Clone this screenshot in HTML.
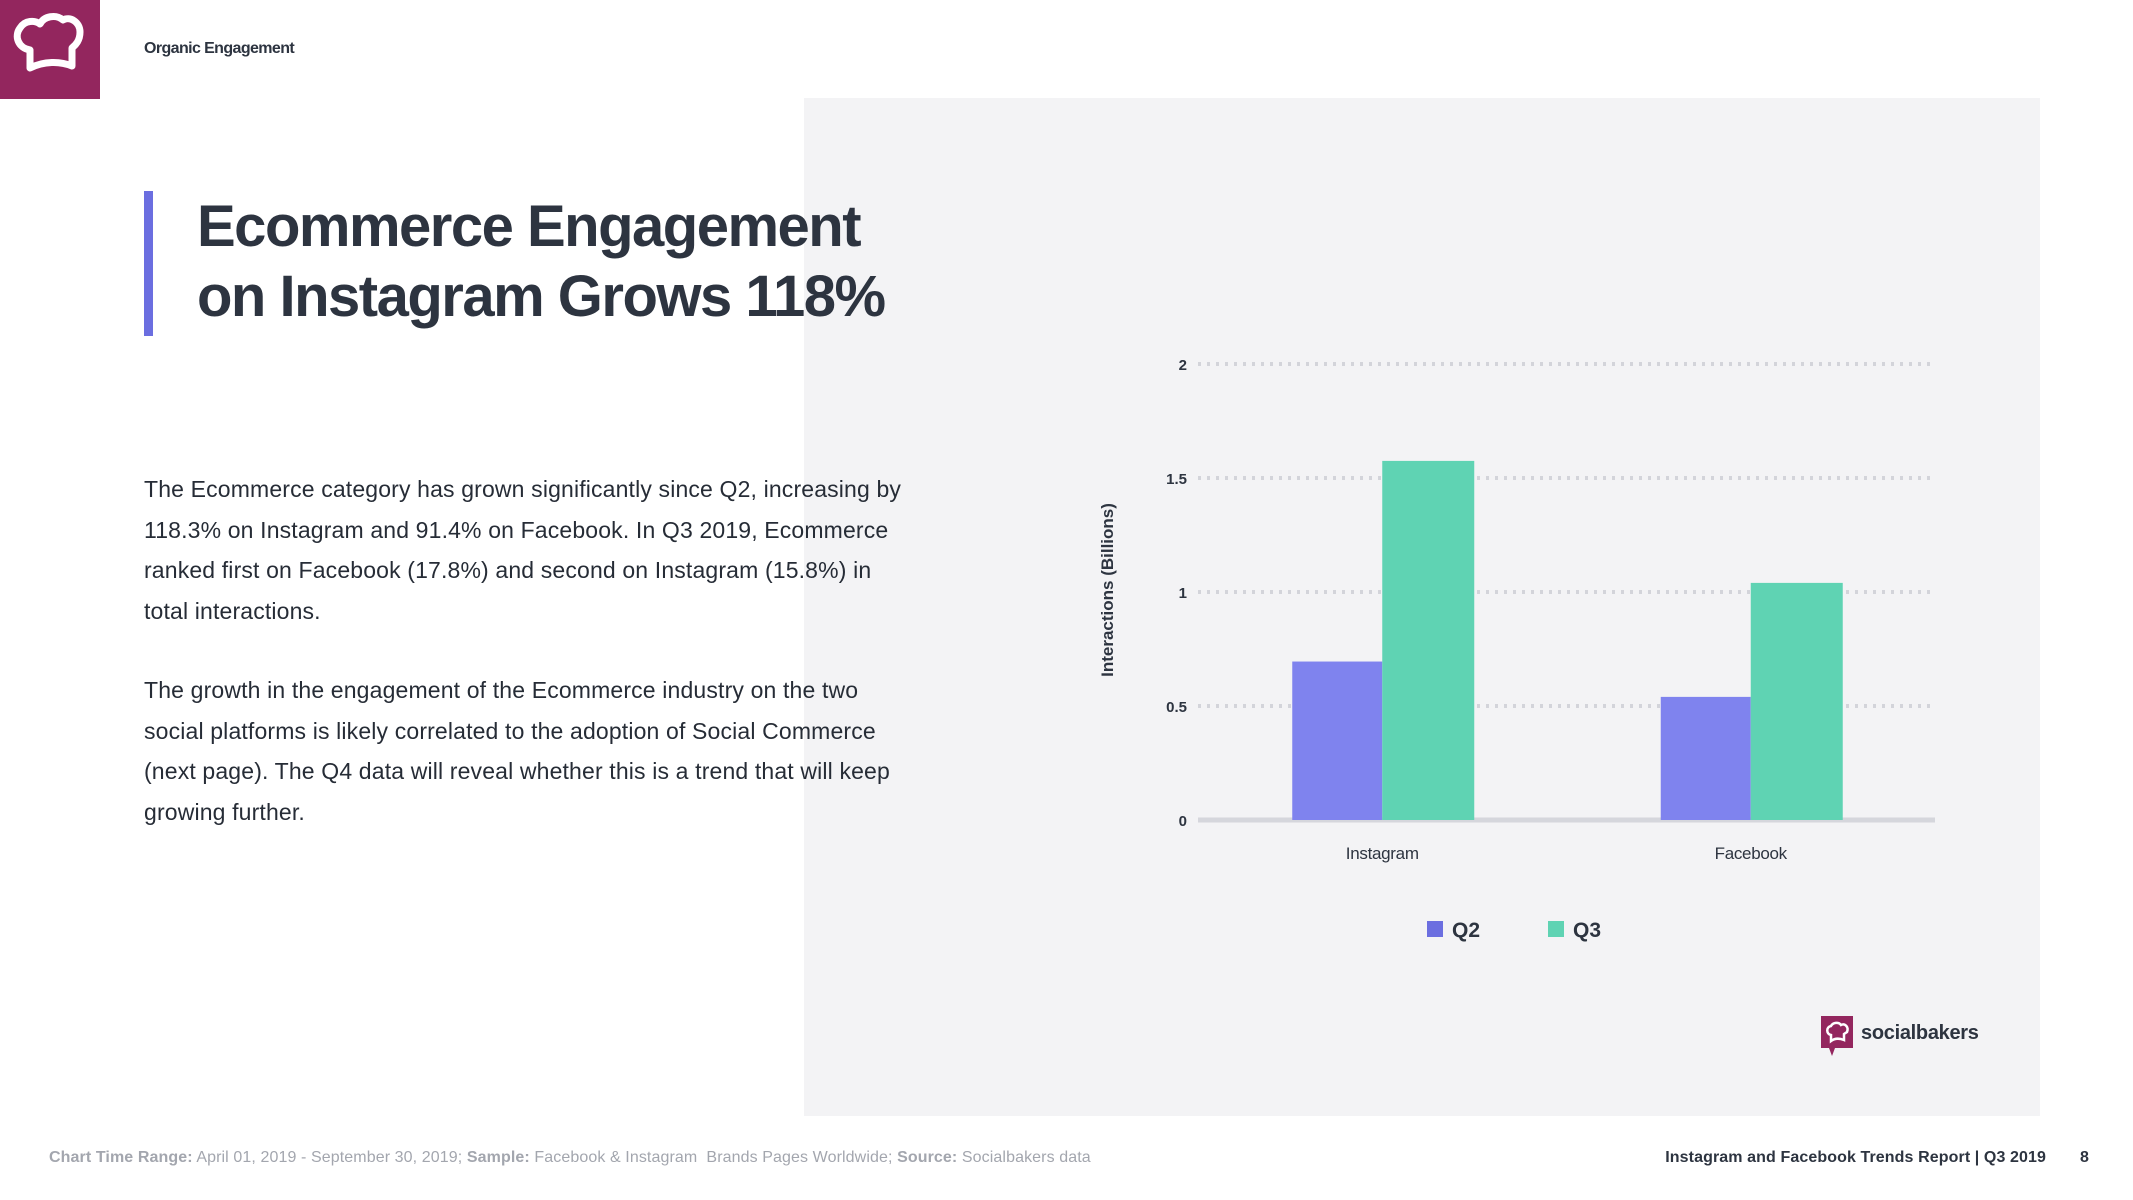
<!DOCTYPE html>
<html><head><meta charset="utf-8">
<style>
*{margin:0;padding:0;box-sizing:border-box}
body{width:2133px;height:1200px;background:#fff;position:relative;overflow:hidden;font-family:"Liberation Sans",Arial,sans-serif;color:#2d3440}
.abs{position:absolute}
.p{font-size:23px;line-height:40.5px;color:#262c36;letter-spacing:0.15px}
</style></head><body>
<div class="abs" style="left:0;top:0;width:100px;height:99px;background:#93265e">
<svg width="100" height="99" viewBox="0 0 100 99"><path d="M30 68 L30 50 C18 48 14 36 20 28 C25 20 35 20 40 24 C44 16 56 14 63 20 C70 16 80 22 80 32 C80 42 74 46 72 48 L72 66 C60 61 44 61 30 68 Z" fill="none" stroke="#fff" stroke-width="7" stroke-linejoin="round"/></svg></div>
<div class="abs" style="left:144px;top:40px;font-size:16px;font-weight:bold;letter-spacing:-0.6px">Organic Engagement</div>
<div class="abs" style="left:804px;top:98px;width:1236px;height:1018px;background:#f3f3f5"></div>
<div class="abs" style="left:144px;top:191px;width:9px;height:145px;background:#6b6ee0"></div>
<div class="abs" style="left:197px;top:192px;font-size:58px;font-weight:bold;line-height:70px;letter-spacing:-1.5px;color:#2d3440">Ecommerce Engagement<br>on Instagram Grows 118%</div>
<div class="abs p" style="left:144px;top:469px;width:770px">The Ecommerce category has grown significantly since Q2, increasing by 118.3% on Instagram and 91.4% on Facebook. In Q3 2019, Ecommerce ranked first on Facebook (17.8%) and second on Instagram (15.8%) in total interactions.</div>
<div class="abs p" style="left:144px;top:670px;width:770px">The growth in the engagement of the Ecommerce industry on the two social platforms is likely correlated to the adoption of Social Commerce (next page). The Q4 data will reveal whether this is a trend that will keep growing further.</div>
<svg class="abs" style="left:0;top:0" width="2133" height="1200" id="chart"></svg>
<div class="abs" style="left:1821px;top:1016px;width:160px;height:50px">
<svg width="36" height="46" style="position:absolute;left:0;top:0"><rect x="0" y="0" width="32" height="32" fill="#93265e"/><path d="M8 32 L14 32 L11 40 Z" fill="#93265e"/><path d="M10 25 L10 19 C5 18 5 11 10 10 C12 6 18 6 20 9 C24 7 28 11 26 16 L23 18 L23 24 C18 22 14 22 10 25Z" fill="none" stroke="#fff" stroke-width="2.5"/></svg>
<div style="position:absolute;left:40px;top:6px;font-size:20px;font-weight:bold;color:#2d3440;letter-spacing:-0.3px">socialbakers</div></div>
<div class="abs" style="left:49px;top:1149px;font-size:16px;color:#a3a6ae;letter-spacing:0.1px;white-space:nowrap"><b>Chart Time Range:</b> April 01, 2019 - September 30, 2019; <b>Sample:</b> Facebook &amp; Instagram&nbsp; Brands Pages Worldwide; <b>Source:</b> Socialbakers data</div>
<div class="abs" style="right:87px;top:1149px;font-size:16px;font-weight:bold;letter-spacing:0.1px;white-space:nowrap;color:#2d3440">Instagram and Facebook Trends Report | Q3 2019</div>
<div class="abs" style="left:2080px;top:1149px;font-size:16px;font-weight:bold">8</div>
<script>
const categories=["Instagram","Facebook"];
const q2Values=[0.695,0.54];
const q3Values=[1.575,1.04];
const tickValues=[0,0.5,1,1.5,2];
const tickLabels=["0","0.5","1","1.5","2"];
const svg=document.getElementById('chart');
const NS="http://www.w3.org/2000/svg";
const X0=1198,X1=1935,Y0=820,PX=228;
const y=v=>Y0-v*PX;
const band=(X1-X0)/categories.length;
function mk(t,a){const e=document.createElementNS(NS,t);for(const k in a)e.setAttribute(k,a[k]);svg.appendChild(e);return e;}
tickValues.forEach((v,i)=>{
 if(v>0){const g=mk('line',{x1:X0,x2:X1,y1:y(v),y2:y(v),stroke:'#d3d4da','stroke-width':4,'stroke-dasharray':'3 6'});
 
 }
 const t=mk('text',{x:1187,y:y(v)+6,'text-anchor':'end','font-size':15,'font-weight':'bold',fill:'#2d3440','font-family':'Liberation Sans'});
 t.textContent=tickLabels[i];
 
 
});
const base=mk('line',{x1:X0,x2:X1,y1:Y0,y2:Y0,stroke:'#d5d6dc','stroke-width':5});


const bw=90;
categories.forEach((c,i)=>{
 const cx=X0+band*(i+0.5);
 const r1=mk('rect',{x:cx-bw,y:y(q2Values[i]),width:bw,height:q2Values[i]*PX,fill:'#7f83ee'});
 
 
 const r2=mk('rect',{x:cx,y:y(q3Values[i]),width:bw+2,height:q3Values[i]*PX,fill:'#5fd3b3'});
 
 
 const t=mk('text',{x:cx,y:859,'text-anchor':'middle','font-size':17,fill:'#2d3440','font-family':'Liberation Sans','letter-spacing':'-0.3'});
 t.textContent=c;
 
 
});
const yt=mk('text',{x:0,y:0,transform:'translate(1113,590) rotate(-90)','text-anchor':'middle','font-size':17,'font-weight':'bold',fill:'#2d3440','font-family':'Liberation Sans'});
yt.textContent='Interactions (Billions)';


[['Q2','#6b6ee0',1427],['Q3','#5fd3b3',1548]].forEach(l=>{
 const r=mk('rect',{x:l[2],y:921,width:16,height:16,fill:l[1]});
 
 
 const t=mk('text',{x:l[2]+25,y:937,'font-size':21,'font-weight':'bold',fill:'#2d3440','font-family':'Liberation Sans'});
 t.textContent=l[0];
 
 
});
</script>
</body></html>
